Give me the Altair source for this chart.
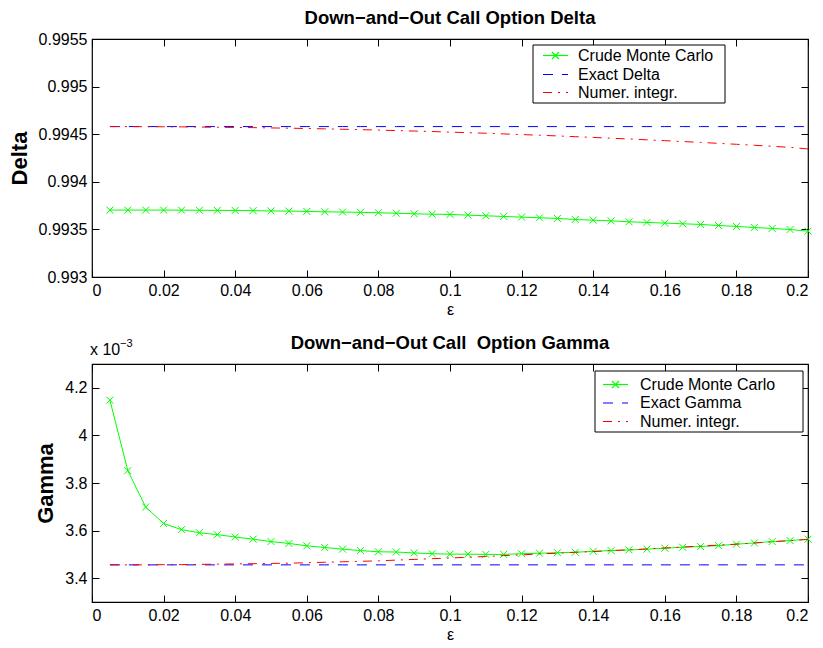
import altair as alt
import pandas as pd

# ---------------- data ----------------
EPS = [0.005, 0.010, 0.015, 0.020, 0.025, 0.030, 0.035, 0.040, 0.045, 0.050,
       0.055, 0.060, 0.065, 0.070, 0.075, 0.080, 0.085, 0.090, 0.095, 0.100,
       0.105, 0.110, 0.115, 0.120, 0.125, 0.130, 0.135, 0.140, 0.145, 0.150,
       0.155, 0.160, 0.165, 0.170, 0.175, 0.180, 0.185, 0.190, 0.195, 0.200]

DELTA_MC = [0.993703, 0.993703, 0.993703, 0.993703, 0.993702, 0.993701, 0.993700, 0.993699, 0.993697, 0.993694,
            0.993692, 0.993689, 0.993685, 0.993682, 0.993679, 0.993675, 0.993670, 0.993664, 0.993660, 0.993657,
            0.993650, 0.993643, 0.993636, 0.993629, 0.993622, 0.993615, 0.993604, 0.993597, 0.993590, 0.993580,
            0.993573, 0.993566, 0.993559, 0.993552, 0.993541, 0.993531, 0.993520, 0.993510, 0.993499, 0.993482]
DELTA_NUM = [0.994580, 0.994580, 0.994579, 0.994578, 0.994577, 0.994575, 0.994573, 0.994571, 0.994569, 0.994566,
             0.994563, 0.994560, 0.994556, 0.994552, 0.994548, 0.994543, 0.994538, 0.994533, 0.994528, 0.994522,
             0.994516, 0.994510, 0.994503, 0.994496, 0.994489, 0.994482, 0.994474, 0.994466, 0.994458, 0.994450,
             0.994441, 0.994432, 0.994423, 0.994414, 0.994404, 0.994394, 0.994384, 0.994373, 0.994362, 0.994345]
DELTA_EXACT = 0.99458

# Gamma values in units of 1e-3
GAMMA_MC = [4.148, 3.852, 3.699, 3.630, 3.604, 3.591, 3.583, 3.573, 3.564, 3.554,
            3.546, 3.536, 3.529, 3.522, 3.516, 3.511, 3.510, 3.506, 3.503, 3.501,
            3.501, 3.500, 3.500, 3.503, 3.505, 3.507, 3.509, 3.513, 3.516, 3.519,
            3.522, 3.526, 3.530, 3.533, 3.537, 3.543, 3.548, 3.554, 3.558, 3.564]
GAMMA_NUM = [3.456, 3.456, 3.456, 3.457, 3.457, 3.458, 3.459, 3.460, 3.461, 3.462,
             3.463, 3.465, 3.467, 3.469, 3.471, 3.473, 3.476, 3.479, 3.482, 3.485,
             3.488, 3.491, 3.495, 3.498, 3.502, 3.505, 3.509, 3.512, 3.516, 3.519,
             3.523, 3.527, 3.531, 3.535, 3.539, 3.543, 3.548, 3.553, 3.558, 3.563]
GAMMA_EXACT = 3.456

X_TICKS = [0, 0.02, 0.04, 0.06, 0.08, 0.1, 0.12, 0.14, 0.16, 0.18, 0.2]
DELTA_TICKS = [0.993, 0.9935, 0.994, 0.9945, 0.995, 0.9955]
GAMMA_TICKS = [3.4, 3.6, 3.8, 4.0, 4.2]

DELTA_LEGEND = ["Crude Monte Carlo", "Exact Delta", "Numer. integr."]
GAMMA_LEGEND = ["Crude Monte Carlo", "Exact Gamma", "Numer. integr."]

# ---------------- styling ----------------
FONT = "Liberation Sans"
W, H = 716, 238
TICK = 7
GREEN, BLUE, RED = "#00ff00", "#0000ff", "#ff0000"
DASH = [10, 9]
DASHDOT = [9, 6, 2, 6]
XSHAPE = "M-1,-1L1,1M-1,1L1,-1"
ONE = alt.Data(values=[{}])


def panel(title, ylabel, mc, exact, num, ydomain, yticks, labels, box, exponent=False):
    df = pd.DataFrame({"eps": EPS, "mc": mc, "exact": [exact] * len(EPS), "num": num})
    xs = alt.Scale(domain=[0, 0.2], nice=False, zero=False)
    ys = alt.Scale(domain=ydomain, nice=False, zero=False)

    x_axis = alt.Axis(values=X_TICKS, format="~g", orient="bottom", offset=-TICK, tickSize=TICK,
                      domain=False, grid=False, labelPadding=5, labelFontSize=16,
                      title="ε", titleFontSize=16, titleFontWeight="normal", titlePadding=3)
    y_axis = alt.Axis(values=yticks, format="~g", orient="left", offset=-TICK, tickSize=TICK,
                      domain=False, grid=False, labelPadding=5, labelFontSize=16,
                      title=ylabel, titleFontSize=22, titleFontWeight="bold", titlePadding=7)
    x_top = alt.Axis(values=X_TICKS, orient="top", offset=-TICK, tickSize=TICK, domain=False,
                     grid=False, labels=False, title=None)
    y_right = alt.Axis(values=yticks, orient="right", offset=-TICK, tickSize=TICK, domain=False,
                       grid=False, labels=False, title=None)

    base = alt.Chart(df)
    mc_line = base.mark_line(color=GREEN, strokeWidth=1).encode(
        x=alt.X("eps:Q", scale=xs, axis=x_axis), y=alt.Y("mc:Q", scale=ys, axis=y_axis))
    mc_pts = base.mark_point(shape=XSHAPE, size=49, filled=False, color=GREEN, strokeWidth=1,
                             opacity=1).encode(
        x=alt.X("eps:Q", axis=None), y=alt.Y("mc:Q", axis=None))
    exact_line = base.mark_line(color=BLUE, strokeWidth=1, strokeDash=DASH).encode(
        x=alt.X("eps:Q", axis=None), y=alt.Y("exact:Q", axis=None))
    num_line = base.mark_line(color=RED, strokeWidth=1, strokeDash=DASHDOT).encode(
        x=alt.X("eps:Q", axis=None), y=alt.Y("num:Q", axis=None))
    mirror = base.mark_point(opacity=0).encode(
        x=alt.X("eps:Q", axis=x_top), y=alt.Y("mc:Q", axis=y_right))

    layers = [mc_line, mc_pts, exact_line, num_line, mirror]

    # panel title
    layers.append(alt.Chart(ONE).mark_text(text=title, align="center", baseline="middle", font=FONT,
                                           fontSize=18.5, fontWeight="bold", color="black").encode(
        x=alt.value(W / 2), y=alt.value(-21)))

    # legend (manual, MATLAB style)
    bx0, bx1, by0, by1, lx0, lx1, tx, rows = box
    layers.append(alt.Chart(ONE).mark_rect(fill="white", stroke="black", strokeWidth=1).encode(
        x=alt.value(bx0), x2=alt.value(bx1), y=alt.value(by0), y2=alt.value(by1)))
    styles = [(GREEN, None), (BLUE, DASH), (RED, DASHDOT)]
    for (col, dash), lab, ry in zip(styles, labels, rows):
        kw = dict(stroke=col, color=col, strokeWidth=1.2, opacity=1)
        if dash:
            kw["strokeDash"] = dash
        layers.append(alt.Chart(ONE).mark_rule(**kw).encode(
            x=alt.value(lx0), x2=alt.value(lx1), y=alt.value(ry), color=alt.value(col)))
        if dash is None:
            layers.append(alt.Chart(ONE).mark_point(shape=XSHAPE, size=49, filled=False, color=col,
                                                    stroke=col, strokeWidth=1.2, opacity=1).encode(
                x=alt.value((lx0 + lx1) / 2), y=alt.value(ry), color=alt.value(col)))
        layers.append(alt.Chart(ONE).mark_text(text=lab, align="left", baseline="middle", font=FONT,
                                               fontSize=16, color="black").encode(
            x=alt.value(tx), y=alt.value(ry)))

    if exponent:
        layers.append(alt.Chart(ONE).mark_text(text="x 10", align="left", baseline="alphabetic",
                                               font=FONT, fontSize=16, color="black").encode(
            x=alt.value(-2), y=alt.value(-9)))
        layers.append(alt.Chart(ONE).mark_text(text="−3", align="left", baseline="alphabetic",
                                               font=FONT, fontSize=11, color="black").encode(
            x=alt.value(28), y=alt.value(-17)))

    return alt.layer(*layers).resolve_axis(x="independent", y="independent").properties(
        width=W, height=H)


top = panel("Down−and−Out Call Option Delta", "Delta", DELTA_MC, DELTA_EXACT, DELTA_NUM,
            [0.993, 0.9955], DELTA_TICKS, DELTA_LEGEND,
            (441, 633, 6, 64, 451, 476, 486, [16.5, 35.5, 53.5]))
bottom = panel("Down−and−Out Call\u00a0 Option Gamma", "Gamma", GAMMA_MC, GAMMA_EXACT, GAMMA_NUM,
               [3.3, 4.3], GAMMA_TICKS, GAMMA_LEGEND,
               (503, 711, 7, 68, 511, 536, 548, [20.5, 39, 57.5]), exponent=True)

chart = alt.vconcat(top, bottom, spacing=15).configure_view(
    stroke="black", strokeWidth=1.2
).configure_axis(
    labelFont=FONT, titleFont=FONT, labelColor="black", titleColor="black", tickColor="black",
    tickWidth=1
).properties(background="white", padding={"left": 7, "top": 8, "right": 5, "bottom": 5})

chart.save("out.html", embed_options={"renderer": "svg", "actions": False})
